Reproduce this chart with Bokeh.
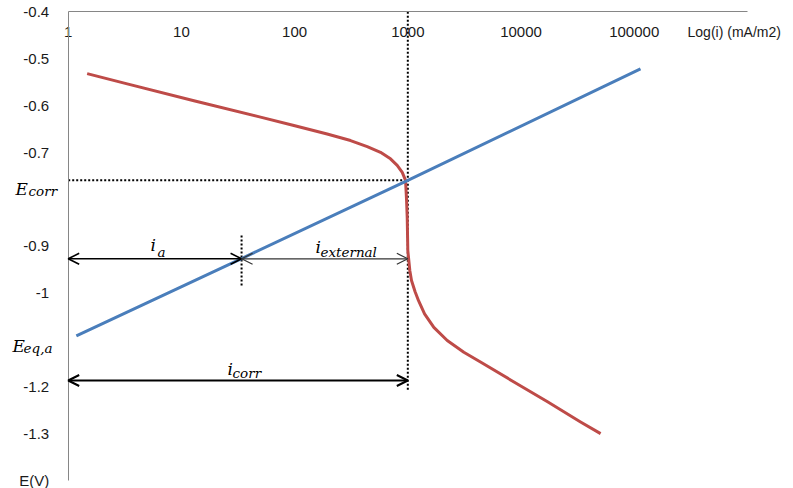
from bokeh.plotting import figure
from bokeh.models import FixedTicker, Label, Arrow, OpenHead
from bokeh.embed import file_html
from bokeh.resources import INLINE

# ---- data ----
x_ticks = [1, 10, 100, 1000, 10000, 100000]
x_tick_labels = ["1", "10", "100", "1000", "10000", "100000"]
y_ticks = [-1.4, -1.3, -1.2, -1.1, -1.0, -0.9, -0.8, -0.7, -0.6, -0.5, -0.4]
y_tick_labels = ["E(V)", "-1.3", "-1.2", "", "-1", "-0.9", "", "-0.7", "-0.6", "-0.5", "-0.4"]

# anodic (blue) line
anodic_i = [1.18, 34, 1000, 113600]
anodic_E = [-1.092, -0.927, -0.760, -0.522]

# cathodic (red) curve
cathodic_i = [1.47, 3.32, 12.9, 50, 98.5, 194, 312, 438, 574, 703, 806, 893, 955,
              975, 988, 1000, 1042, 1078, 1160, 1244, 1406, 1698, 2229, 3125, 4385,
              8590, 17150, 33570, 50470]
cathodic_E = [-0.532, -0.554, -0.590, -0.625, -0.643, -0.661, -0.675, -0.688, -0.700,
              -0.714, -0.728, -0.743, -0.760, -0.803, -0.839, -0.910, -0.953, -0.974,
              -0.998, -1.017, -1.045, -1.074, -1.102, -1.127, -1.148, -1.190, -1.233,
              -1.276, -1.301]

i_corr = 1000
E_corr = -0.760
i_a = 34
E_ia_arrow = -0.9276
E_icorr_arrow = -1.1875
i_min, i_max = 1, 1e6
E_min, E_max = -1.4, -0.4

# ---- figure (frame spans the whole canvas, axes pinned inside) ----
p = figure(width=793, height=488, x_axis_type="log",
           x_range=(0.2523, 2.553e6), y_range=(-1.41815, -0.37587),
           output_backend="svg", toolbar_location=None,
           min_border_left=0, min_border_right=0, min_border_top=0, min_border_bottom=0)
p.outline_line_color = None
p.xgrid.visible = False
p.ygrid.visible = False
p.background_fill_color = "white"
p.border_fill_color = "white"

axis_col = "#868686"
lab_col = "#1a1a1a"

xa = p.xaxis[0]
xa.fixed_location = E_max
xa.bounds = (i_min, i_max)
xa.ticker = FixedTicker(ticks=x_ticks)
xa.major_label_overrides = {t: s for t, s in zip(x_ticks, x_tick_labels)}
xa.axis_line_color = axis_col
xa.major_tick_line_color = None
xa.minor_tick_line_color = None
xa.major_label_text_font = "Liberation Sans"
xa.major_label_text_font_size = "15px"
xa.major_label_text_color = lab_col
xa.major_label_standoff = 9

ya = p.yaxis[0]
ya.fixed_location = i_min
ya.bounds = (E_min, E_max)
ya.ticker = FixedTicker(ticks=y_ticks)
ya.major_label_overrides = {t: s for t, s in zip(y_ticks, y_tick_labels)}
ya.axis_line_color = axis_col
ya.major_tick_line_color = None
ya.minor_tick_line_color = None
ya.major_label_text_font = "Liberation Sans"
ya.major_label_text_font_size = "15px"
ya.major_label_text_color = lab_col
ya.major_label_standoff = 13

# dotted guide lines
p.line([i_corr, i_corr], [E_max, -1.209], line_color="black", line_width=2, line_dash="2 2")
p.line([i_min, i_corr], [E_corr, E_corr], line_color="black", line_width=2, line_dash="2 2")
p.line([i_a, i_a], [-0.878, -0.989], line_color="black", line_width=2, line_dash="2 2")

# curves
p.line(cathodic_i, cathodic_E, line_color="#BE4B48", line_width=3, line_join="round")
p.line(anodic_i, anodic_E, line_color="#4A7EBB", line_width=3, line_join="round")

# arrows
def dbl_arrow(x0, x1, y, w, col):
    p.add_layout(Arrow(x_start=x0, x_end=x1, y_start=y, y_end=y, line_width=w, line_color=col,
                       start=OpenHead(size=11, line_width=w, line_color=col),
                       end=OpenHead(size=11, line_width=w, line_color=col)))

dbl_arrow(i_min, i_a, E_ia_arrow, 1.6, "black")
dbl_arrow(i_a, i_corr, E_ia_arrow, 1.2, "#333333")
dbl_arrow(i_min, i_corr, E_icorr_arrow, 2, "black")

# math-like labels
MF = "DejaVu Serif"
def mlabel(x, y, t, size):
    p.add_layout(Label(x=x, y=y, text=t, text_font=MF, text_font_style="italic",
                       text_font_size=size, text_color="black",
                       text_align="left", text_baseline="alphabetic"))

mlabel(5.33, -0.899, "i", "17px")
mlabel(6.15, -0.912, "a", "13.5px")
mlabel(153, -0.9034, "i", "17px")
mlabel(169, -0.914, "external", "13.5px")
mlabel(25.6, -1.162, "i", "17px")
mlabel(28.3, -1.1705, "corr", "13.5px")
mlabel(0.342, -0.779, "E", "17px")
mlabel(0.446, -0.782, "corr", "13.5px")
mlabel(0.322, -1.113, "E", "17px")
mlabel(0.403, -1.117, "eq,a", "13.5px")

p.add_layout(Label(x=295800, y=-0.4442, text="Log(i) (mA/m2)", text_font="Liberation Sans",
                   text_font_size="14px", text_color=lab_col, text_align="left",
                   text_baseline="middle"))

open("out.html", "w").write(file_html(p, INLINE))
